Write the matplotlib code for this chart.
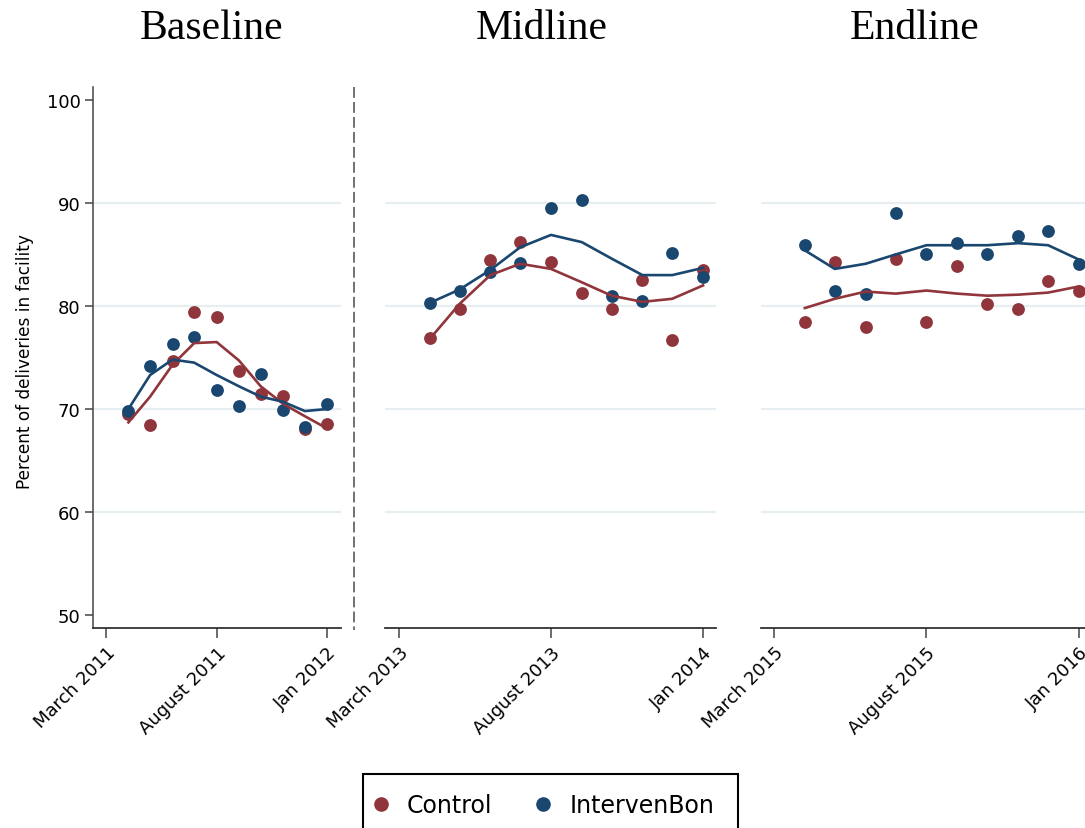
import pandas as pd
import matplotlib
matplotlib.use('Agg')
import matplotlib.pyplot as plt
from matplotlib.lines import Line2D
from matplotlib.patches import Rectangle

plt.rcParams['font.family'] = ['DejaVu Sans']

red = '#90353B'
navy = '#1A476F'

# months of each survey round (x categories)
base_months = ['2011-04', '2011-05', '2011-06', '2011-07', '2011-08',
               '2011-09', '2011-10', '2011-11', '2011-12', '2012-01']
mid_months = ['2013-04', '2013-05', '2013-06', '2013-07', '2013-08',
              '2013-09', '2013-10', '2013-11', '2013-12', '2014-01']
end_months = ['2015-04', '2015-05', '2015-06', '2015-07', '2015-08',
              '2015-09', '2015-10', '2015-11', '2015-12', '2016-01']

# percent of deliveries in facility
base_ctrl = [69.5, 68.4, 74.7, 79.4, 78.9, 73.7, 71.5, 71.3, 68.1, 68.5]
base_int = [69.8, 74.2, 76.3, 77.0, 71.8, 70.3, 73.4, 69.9, 68.3, 70.5]
base_ctrl_fit = [68.7, 71.2, 74.3, 76.4, 76.5, 74.7, 72.2, 70.5, 69.3, 68.1]
base_int_fit = [70.0, 73.3, 74.8, 74.5, 73.3, 72.2, 71.2, 70.7, 69.8, 70.0]

mid_ctrl = [76.9, 79.7, 84.5, 86.2, 84.3, 81.3, 79.7, 82.5, 76.7, 83.5]
mid_int = [80.3, 81.5, 83.3, 84.2, 89.5, 90.3, 81.0, 80.5, 85.1, 82.8]
mid_ctrl_fit = [76.8, 80.2, 83.0, 84.1, 83.6, 82.3, 81.0, 80.4, 80.7, 82.0]
mid_int_fit = [80.3, 81.6, 83.5, 85.7, 86.9, 86.2, 84.6, 83.0, 83.0, 83.7]

end_ctrl = [78.4, 84.3, 78.0, 84.6, 78.4, 83.9, 80.2, 79.7, 82.4, 81.5]
end_int = [85.9, 81.5, 81.2, 89.0, 85.0, 86.1, 85.0, 86.8, 87.3, 84.1]
end_ctrl_fit = [79.8, 80.7, 81.4, 81.2, 81.5, 81.2, 81.0, 81.1, 81.3, 81.9]
end_int_fit = [85.4, 83.6, 84.1, 85.0, 85.9, 85.9, 85.9, 86.1, 85.9, 84.5]

titles = ['Baseline', 'Midline', 'Endline']
tick_dates = [['2011-03-01', '2011-08-01', '2012-01-01'],
              ['2013-03-01', '2013-08-01', '2014-01-01'],
              ['2015-03-01', '2015-08-01', '2016-01-01']]
tick_labels = [['March 2011', 'August 2011', 'Jan 2012'],
               ['March 2013', 'August 2013', 'Jan 2014'],
               ['March 2015', 'August 2015', 'Jan 2016']]

panels = [
    (base_months, base_ctrl, base_int, base_ctrl_fit, base_int_fit),
    (mid_months, mid_ctrl, mid_int, mid_ctrl_fit, mid_int_fit),
    (end_months, end_ctrl, end_int, end_ctrl_fit, end_int_fit),
]

W, H = 1085, 829
fig = plt.figure(figsize=(W / 100, H / 100), dpi=100)

# axes boxes in pixels: left, right ; extra days of padding left/right
boxes = [(93, 341, 18, 19), (385, 716, 14, 13), (761, 1085, 13, 6)]
top_px, bot_px = 88, 629
title_x = [212, 542, 915]

for i, (months, ctrl, intv, ctrl_fit, int_fit) in enumerate(panels):
    l, r, padl, padr = boxes[i]
    ax = fig.add_axes([l / W, 1 - bot_px / H, (r - l) / W, (bot_px - top_px) / H])
    x = pd.to_datetime(months)
    for v in [60, 70, 80, 90]:
        ax.axhline(v, color='#e6eef1', lw=1.6, zorder=0)
    ax.scatter(x, ctrl, s=85, color=red, zorder=3, linewidths=0)
    ax.scatter(x, intv, s=85, color=navy, zorder=3, linewidths=0)
    ax.plot(x, ctrl_fit, color=red, lw=1.9, zorder=4)
    ax.plot(x, int_fit, color=navy, lw=1.9, zorder=4)

    td = pd.to_datetime(tick_dates[i])
    ax.set_xlim(td[0] - pd.Timedelta(days=padl), td[-1] + pd.Timedelta(days=padr))
    ax.set_ylim(48.74, 101.26)
    ax.set_xticks(td)
    ax.set_xticklabels(tick_labels[i], rotation=45, ha='right',
                       rotation_mode='anchor', fontsize=13)
    ax.tick_params(axis='x', direction='out', length=7, width=1.1,
                   color='#444444', pad=4)
    for s in ['top', 'right']:
        ax.spines[s].set_visible(False)
    ax.spines['bottom'].set_color('#333333')
    ax.spines['bottom'].set_linewidth(1.3)
    if i == 0:
        ax.set_yticks([50, 60, 70, 80, 90, 100])
        ax.tick_params(axis='y', direction='out', length=6, width=1.1,
                       color='#444444', labelsize=13, pad=3)
        ax.spines['left'].set_color('#444444')
        ax.spines['left'].set_linewidth(1.1)
    else:
        ax.spines['left'].set_visible(False)
        ax.set_yticks([])
    fig.text(title_x[i] / W, 1 - 29 / H, titles[i], ha='center', va='center',
             fontsize=30, family='Liberation Serif')

fig.text(25 / W, 1 - 362 / H, 'Percent of deliveries in facility',
         rotation=90, ha='center', va='center', fontsize=12.2)

# dashed separator between baseline and midline
fig.add_artist(Line2D([354 / W, 354 / W], [1 - 88 / H, 1 - 631 / H],
                      color='#666666', lw=1.3, linestyle=(0, (6, 2.3))))

# legend box (runs past the bottom edge, as in the source)
fig.add_artist(Rectangle((363 / W, 1 - 850 / H), (738 - 363) / W, 75 / H,
                         transform=fig.transFigure, facecolor='white',
                         edgecolor='black', lw=1.5))
handles = [Line2D([], [], marker='o', ls='', color=red, markersize=9.5),
           Line2D([], [], marker='o', ls='', color=navy, markersize=9.5)]
fig.legend(handles, ['Control', 'IntervenBon'], loc='center left',
           bbox_to_anchor=(375 / W, 1 - 806 / H), ncol=2, fontsize=17,
           frameon=False, borderpad=0, handlelength=0.5, handletextpad=0.86,
           columnspacing=1.9, borderaxespad=0)

fig.savefig('out.png', dpi=100)
